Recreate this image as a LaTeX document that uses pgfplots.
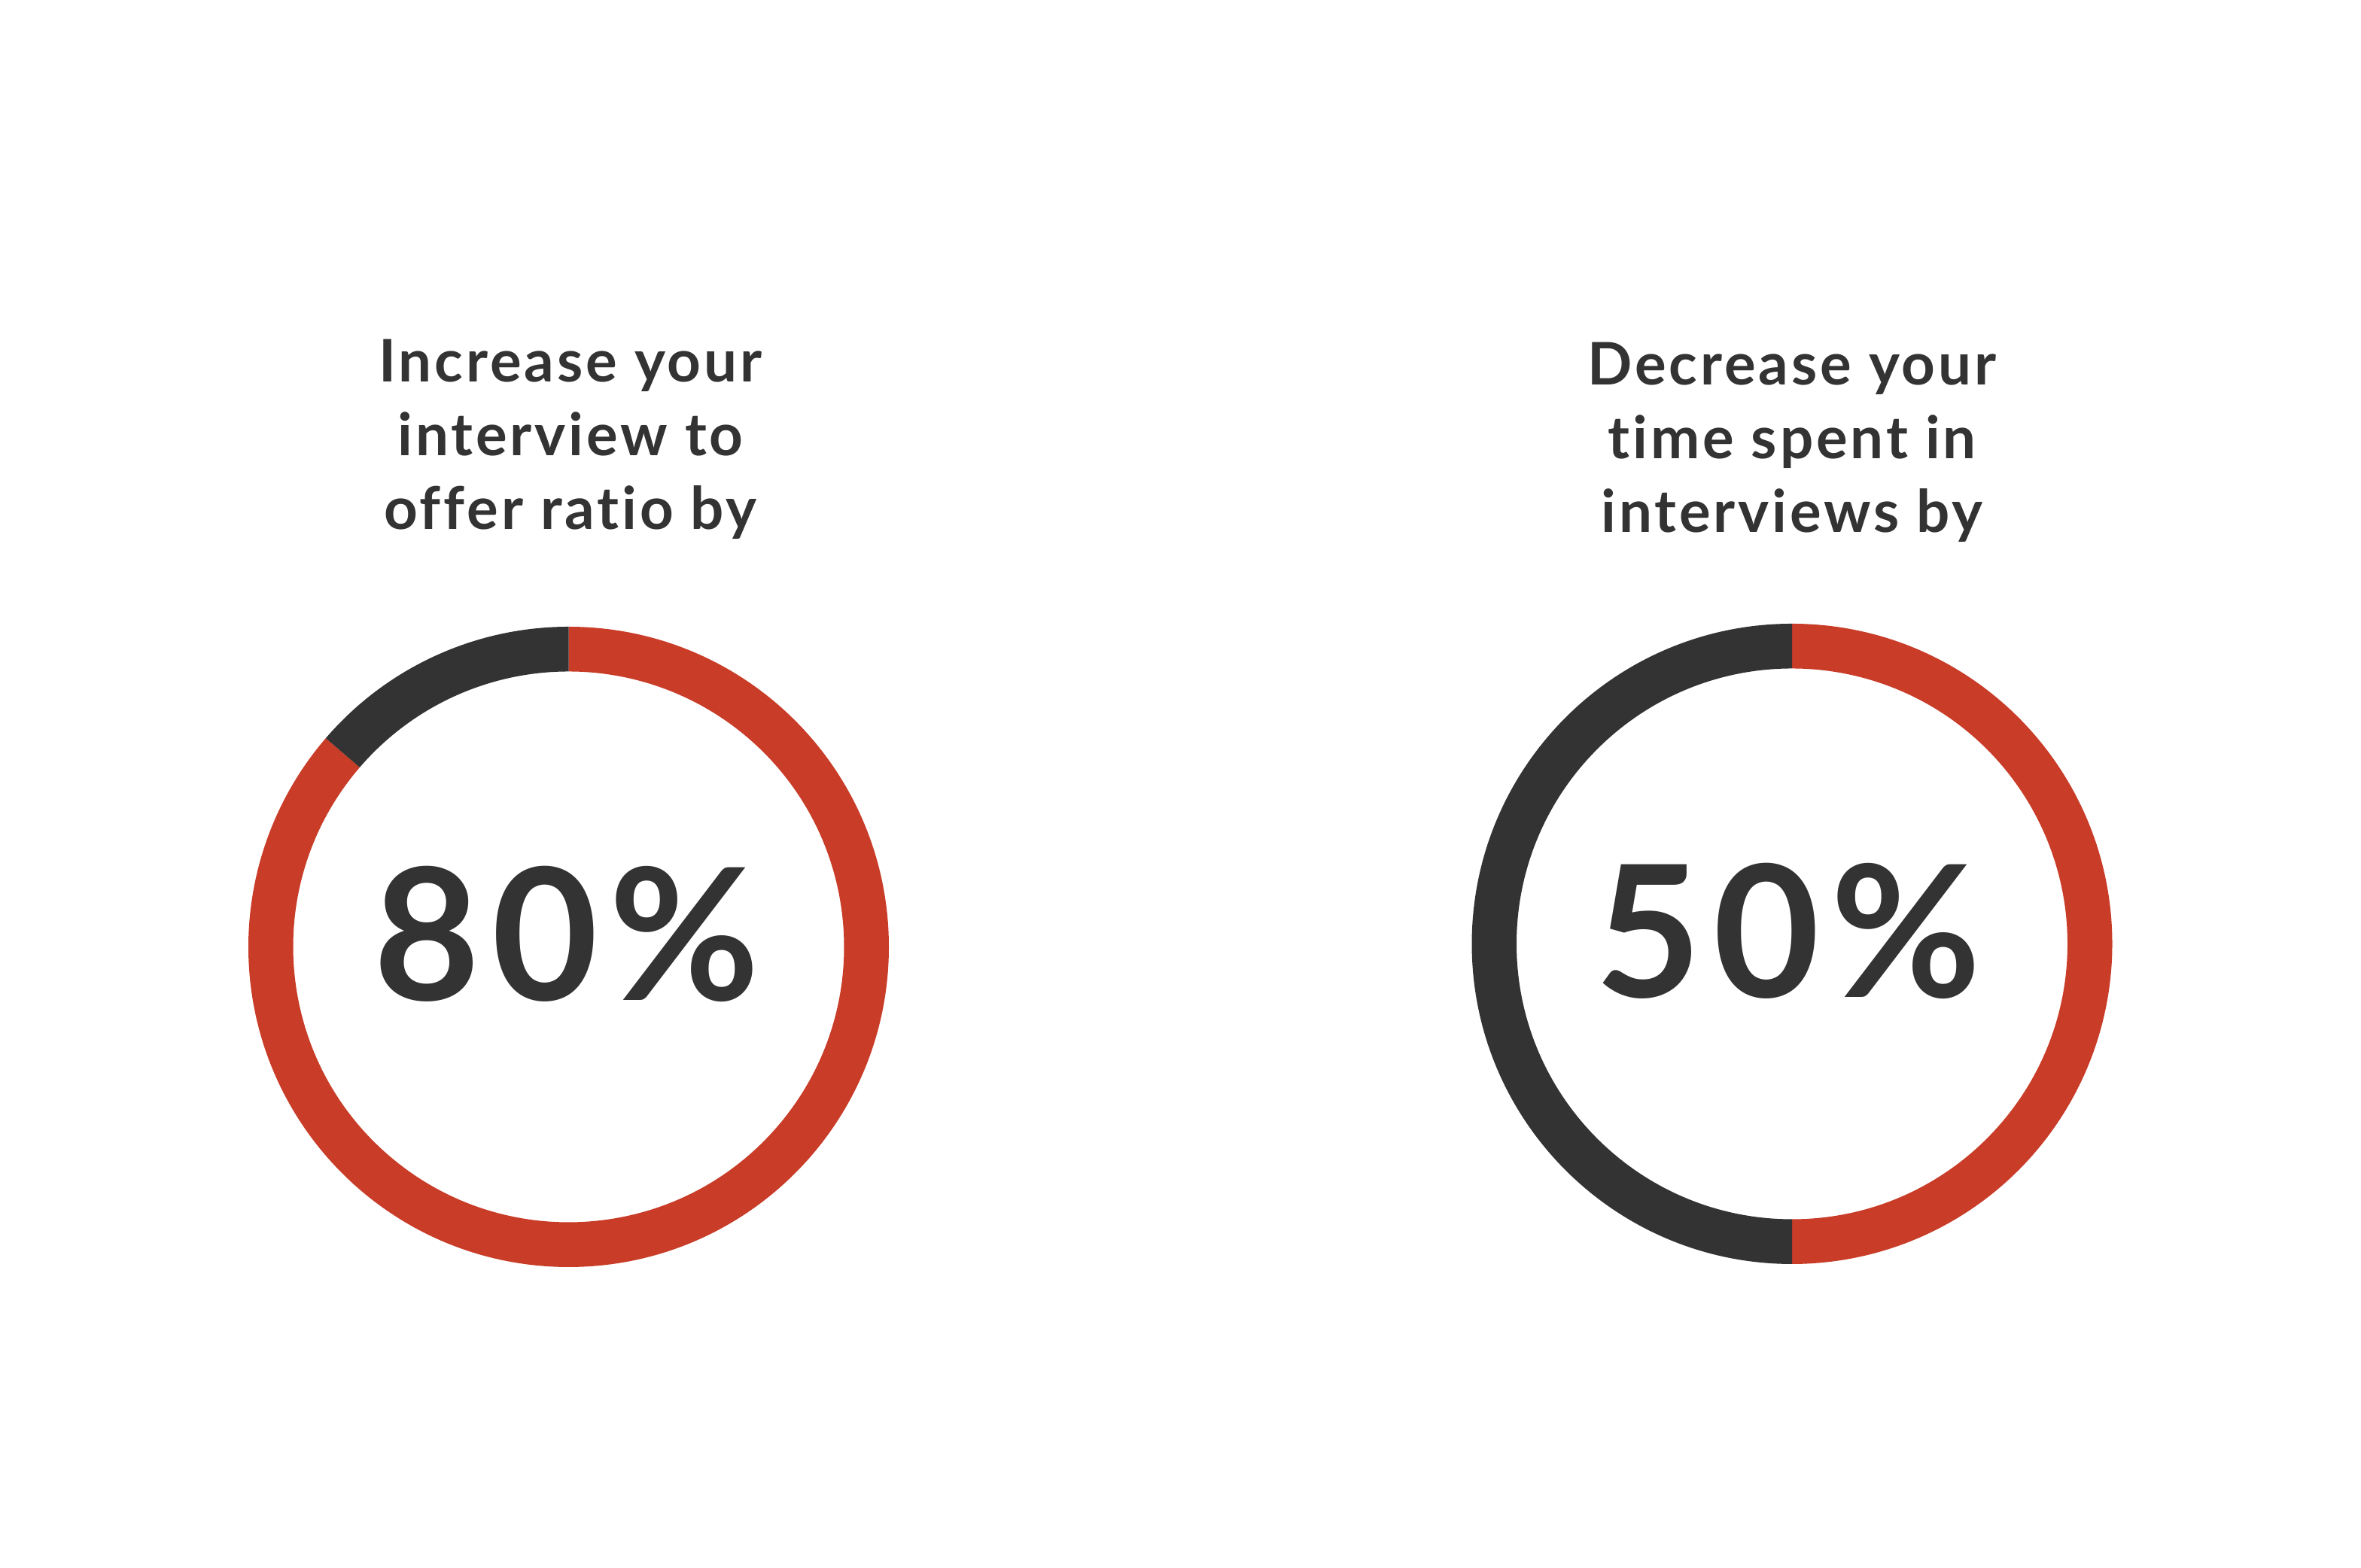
\documentclass[border=0pt]{standalone}
\usepackage{fontspec}
\setmainfont{Lato}
\newfontfamily\titlefont[LetterSpace=5.0, Ligatures={NoCommon}]{Lato Bold}
\newfontfamily\pctfont[LetterSpace=6.0]{Lato Bold}
\usepackage{pgfplots}
\usepackage{pgfplotstable}
\pgfplotsset{compat=1.18}
\definecolor{ringred}{HTML}{C83C28}
\definecolor{ringdark}{HTML}{333333}
\definecolor{txt}{HTML}{333333}

% donut data: center x, center y (px, y up), red share, dark share
\pgfplotstableread{
cx     cy     red   dark
755.5  825.5  86.3  13.7
2381   829.5  50.0  50.0
}\donuts

\pgfplotstablegetelem{0}{cx}\of\donuts \edef\cxA{\pgfplotsretval}
\pgfplotstablegetelem{0}{cy}\of\donuts \edef\cyA{\pgfplotsretval}
\pgfplotstablegetelem{0}{red}\of\donuts \edef\rvA{\pgfplotsretval}
\pgfplotstablegetelem{1}{cx}\of\donuts \edef\cxB{\pgfplotsretval}
\pgfplotstablegetelem{1}{cy}\of\donuts \edef\cyB{\pgfplotsretval}
\pgfplotstablegetelem{1}{red}\of\donuts \edef\rvB{\pgfplotsretval}
\pgfmathsetmacro{\aendA}{90-3.6*\rvA}
\pgfmathsetmacro{\aendB}{90-3.6*\rvB}
\pgfmathsetmacro{\Ro}{425.5*0.25}
\pgfmathsetmacro{\Ri}{366*0.25}

\newcommand{\donut}[3]{%
  \begin{scope}[shift={(axis cs:#1,#2)}]
    \fill[ringred] (90:\Ro pt) arc[start angle=90, end angle=#3, radius=\Ro pt]
       -- (#3:\Ri pt) arc[start angle=#3, end angle=90, radius=\Ri pt] -- cycle;
    \fill[ringdark] (#3:\Ro pt) arc[start angle=#3, end angle=-270, radius=\Ro pt]
       -- (-270:\Ri pt) arc[start angle=-270, end angle=#3, radius=\Ri pt] -- cycle;
  \end{scope}}

\begin{document}
\begin{tikzpicture}
\begin{axis}[
  scale only axis, width=784.25pt, height=521pt,
  xmin=0, xmax=3137, ymin=0, ymax=2084,
  hide axis, clip=false,
]
\addplot[draw=none, forget plot] coordinates {(0,0) (3137,2084)};

\donut{\cxA}{\cyA}{\aendA}
\donut{\cxB}{\cyB}{\aendB}

\node[anchor=base, text=txt, font=\titlefont\fontsize{19.5}{24}\selectfont] at (axis cs:758,1576) {Increase your};
\node[anchor=base, text=txt, font=\titlefont\fontsize{19.5}{24}\selectfont] at (axis cs:758,1478) {interview to};
\node[anchor=base, text=txt, font=\titlefont\fontsize{19.5}{24}\selectfont] at (axis cs:758,1380) {offer ratio by};

\node[anchor=base, text=txt, font=\titlefont\fontsize{19.5}{24}\selectfont] at (axis cs:2381,1572) {Decrease your};
\node[anchor=base, text=txt, font=\titlefont\fontsize{19.5}{24}\selectfont] at (axis cs:2381,1474) {time spent in};
\node[anchor=base, text=txt, font=\titlefont\fontsize{19.5}{24}\selectfont] at (axis cs:2381,1376) {interviews by};

\node[anchor=base, text=txt, font=\pctfont\fontsize{61}{70}\selectfont] at (axis cs:753,754) {80\%};
\node[anchor=base, text=txt, font=\pctfont\fontsize{61}{70}\selectfont] at (axis cs:2376,758) {50\%};
\end{axis}
\end{tikzpicture}
\end{document}
